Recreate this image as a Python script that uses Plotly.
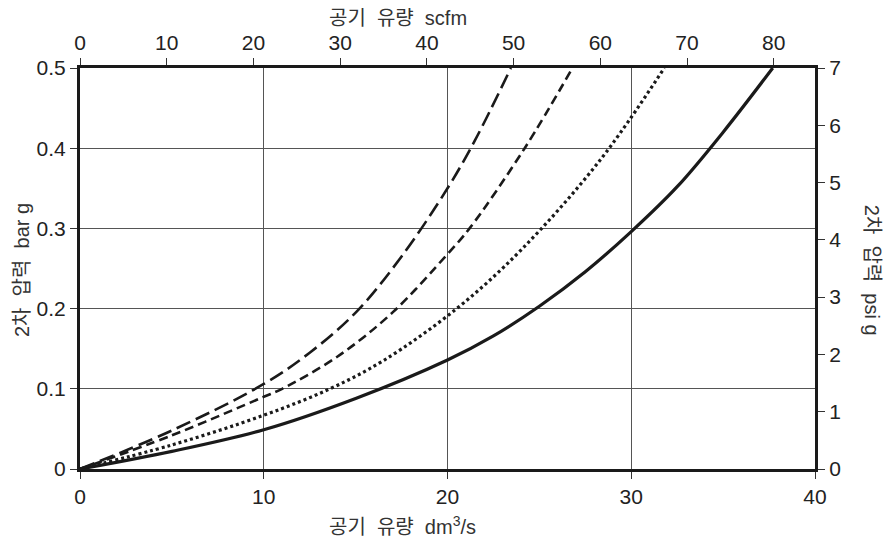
import plotly.graph_objects as go

# Flow (dm3/s) and secondary pressure (bar g) for the four curves
solid_x = [0, 5, 10, 15, 20, 22.5, 25, 27.5, 30, 32.5, 35, 37.7]
solid_y = [0, 0.022, 0.049, 0.088, 0.136, 0.166, 0.203, 0.246, 0.296, 0.352, 0.42, 0.5]

dot_x = [0, 5, 10, 13.6, 16.5, 20.5, 24, 28.3, 31.8]
dot_y = [0, 0.03, 0.067, 0.1, 0.135, 0.2, 0.273, 0.385, 0.5]

dash_x = [0, 5, 10, 11, 14, 17, 20, 21.2, 24.2, 26.8]
dash_y = [0, 0.042, 0.09, 0.1, 0.14, 0.195, 0.268, 0.3, 0.4, 0.5]

longdash_x = [0, 5, 10, 12.5, 15, 17.5, 20, 21.5, 23.45]
longdash_y = [0, 0.048, 0.106, 0.145, 0.195, 0.265, 0.35, 0.41, 0.5]

x_range = [0, 40]
scfm_per_dm3s = 2.1189
y_range = [0, 0.5]
psi_range = [0, 7]

NB = "\u00a0"
title_bottom = f"공기{NB*2}유량{NB*2}dm<sup>3</sup>/s"
title_top = f"공기{NB*2}유량{NB*2}scfm"
title_left = f"2차{NB*2}압력{NB*2}bar{NB}g"
title_right = f"2차{NB*2}압력{NB*2}psi{NB}g"

INK = "#1a1a1a"
GRID = "#555555"
FONT = "Liberation Sans, Noto Sans CJK KR, sans-serif"

fig = go.Figure()
series = [
    (solid_x, solid_y, "solid", 3.2),
    (dot_x, dot_y, "3px,3px", 3.2),
    (dash_x, dash_y, "9px,5px", 2.6),
    (longdash_x, longdash_y, "15px,6px", 2.6),
]
for xs, ys, dash, w in series:
    fig.add_trace(go.Scatter(x=xs, y=ys, mode="lines",
                             line=dict(color=INK, width=w, dash=dash, shape="spline", smoothing=1.0),
                             showlegend=False, hoverinfo="skip"))

# empty trace that makes Plotly draw the secondary (scfm / psi) axes
fig.add_trace(go.Scatter(x=[], y=[], xaxis="x2", yaxis="y2", showlegend=False, hoverinfo="skip"))

tickfont = dict(family=FONT, size=21, color="#222")
common = dict(showline=True, linewidth=3, linecolor=INK, ticks="outside", ticklen=7,
              tickwidth=1.3, tickcolor="#333", tickfont=tickfont, zeroline=False)

# page body adds an 8px offset; margins compensate so the plot area sits at x 80-815, y 68-469
fig.update_layout(
    width=894, height=544,
    margin=dict(l=72, r=87, t=60, b=83),
    paper_bgcolor="white", plot_bgcolor="white",
    font=dict(family=FONT),
    xaxis=dict(range=x_range, dtick=10, showgrid=True, gridcolor=GRID, gridwidth=1.2, **common),
    yaxis=dict(range=y_range, dtick=0.1, showgrid=True, gridcolor=GRID, gridwidth=1.2, **common),
    xaxis2=dict(range=[x_range[0] * scfm_per_dm3s, x_range[1] * scfm_per_dm3s], dtick=10,
                overlaying="x", side="top", anchor="y2", showgrid=False, **common),
    yaxis2=dict(range=psi_range, dtick=1, overlaying="y", side="right", anchor="x2",
                showgrid=False, **common),
)

afont = dict(family=FONT, size=20, color="#333")
fig.add_annotation(text=title_top, xref="paper", yref="paper", x=0.336, y=1.125,
                   xanchor="left", yanchor="middle", showarrow=False, font=afont)
fig.add_annotation(text=title_bottom, xref="paper", yref="paper", x=0.336, y=-0.14,
                   xanchor="left", yanchor="middle", showarrow=False, font=afont)
fig.add_annotation(text=title_left, xref="paper", yref="paper", x=-0.079, y=0.496,
                   xanchor="center", yanchor="middle", showarrow=False, font=afont, textangle=-90)
fig.add_annotation(text=title_right, xref="paper", yref="paper", x=1.078, y=0.496,
                   xanchor="center", yanchor="middle", showarrow=False, font=afont, textangle=90)

fig.write_html("out.html")
